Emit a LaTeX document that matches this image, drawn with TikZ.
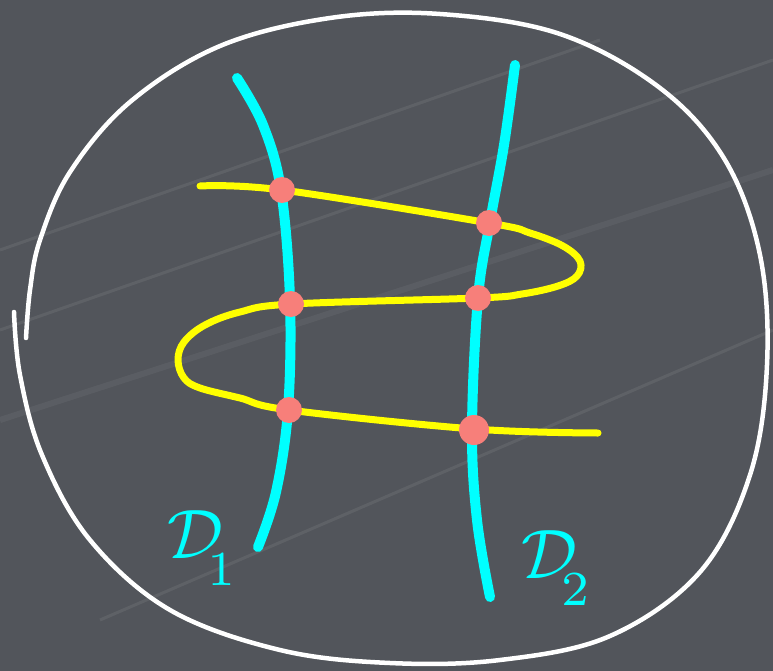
\documentclass[tikz,border=0pt]{standalone}
\usepackage{amsmath}
\definecolor{board}{HTML}{52555B}
\definecolor{chalkcyan}{HTML}{00FFFF}
\definecolor{chalkyellow}{HTML}{FFFF00}
\definecolor{dotred}{HTML}{F77F7A}
\newcommand{\lowsub}[1]{\mkern-4mu_{\raisebox{-0.55ex}{$\scriptstyle #1$}}}
\tikzset{
  loopline/.style={white, line width=4.5pt, line cap=round, line join=round},
  cyanline/.style={chalkcyan, line width=10pt, line cap=round},
  yellowline/.style={chalkyellow, line width=7pt, line cap=round, line join=round},
  crossdot/.style={circle, fill=dotred, inner sep=0pt, minimum size=26pt},
  dlabel/.style={text=chalkcyan, scale=7, inner sep=0pt, anchor=base west},
  streak/.style={white, opacity=0.07, line width=3pt}
}
\begin{document}
\begin{tikzpicture}[x=1pt, y=-1pt]
  \fill[board] (0,0) rectangle (773,671);
  \useasboundingbox (0,0) rectangle (773,671);
  % faint chalk streaks
  \draw[streak] (0,330) -- (773,60);
  \draw[streak] (0,250) -- (600,40);
  \draw[streak] (100,620) -- (773,330);
  \draw[streak, line width=6pt, opacity=0.05] (0,420) -- (773,170);
  % white closed loop
  \draw[loopline] plot[smooth, tension=0.6] coordinates {
    (14,312) (20,375) (42,455) (90,540) (170,610) (280,650) (390,663)
    (500,660) (610,636) (700,572) (750,475) (767,365) (760,255)
    (725,160) (660,88) (560,34) (440,14) (330,18) (220,46) (130,102)
    (70,172) (40,240) (30,290) (26,338)};
  % cyan curves
  \draw[cyanline] plot[smooth, tension=0.6] coordinates {
    (237,78) (263,125) (281,190) (290,300) (288,410) (276,492) (258,547)};
  \draw[cyanline] plot[smooth, tension=0.6] coordinates {
    (515,65) (504,145) (490,222) (478,298) (472,430) (477,520) (490,597)};
  % yellow curve
  \draw[yellowline] plot[smooth, tension=0.6] coordinates {
    (200,186) (282,190) (489,223) (530,233) (563,246) (580,261)
    (577,276) (558,286) (522,294) (478,298) (292,304) (240,312)
    (205,325) (184,342) (178,360) (184,378) (200,388) (240,398)
    (289,410) (474,429) (598,433)};
  % intersection dots
  \node[crossdot] (p1) at (282,190) {};
  \node[crossdot] (p2) at (489,223) {};
  \node[crossdot] (p3) at (478,298) {};
  \node[crossdot] (p4) at (291,304) {};
  \node[crossdot] (p5) at (289,410) {};
  \node[crossdot, minimum size=30pt] (p6) at (474,430) {};
  % labels
  \node[dlabel] (d1) at (166,558) {$\mathcal{D}\lowsub{1}$};
  \node[dlabel] (d2) at (520,578) {$\mathcal{D}\lowsub{2}$};
\end{tikzpicture}
\end{document}
